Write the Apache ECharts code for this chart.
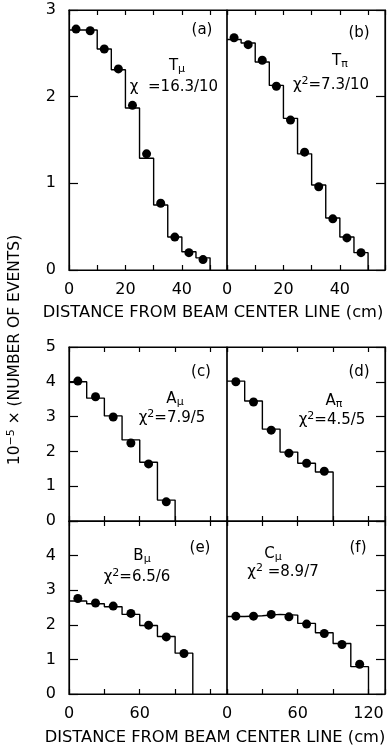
<!DOCTYPE html>
<html>
<head>
<meta charset="utf-8">
<script src="https://cdn.jsdelivr.net/npm/echarts@6/dist/echarts.min.js"></script>
<style>
  html, body { margin: 0; padding: 0; background: #fff; }
  #chart { width: 388px; height: 751px; }
</style>
</head>
<body>
<div id="chart"></div>
<script>
// bin widths in cm
const topBin = 5
const botBin = 15

// (a) T_mu : fitted histogram and measured points
const aFit = [2.77, 2.77, 2.55, 2.31, 1.87, 1.29, 0.75, 0.38, 0.21, 0.14]
const aData = [2.78, 2.76, 2.55, 2.32, 1.90, 1.34, 0.77, 0.38, 0.20, 0.12]
// (b) T_pi
const bFit = [2.66, 2.62, 2.40, 2.13, 1.75, 1.34, 0.98, 0.60, 0.38, 0.20]
const bData = [2.68, 2.60, 2.42, 2.12, 1.73, 1.36, 0.96, 0.59, 0.37, 0.20]
// (c) A_mu
const cFit = [4.00, 3.53, 3.02, 2.33, 1.69, 0.60]
const cData = [4.02, 3.57, 2.99, 2.24, 1.64, 0.55]
// (d) A_pi
const dFit = [4.02, 3.45, 2.64, 1.98, 1.66, 1.41]
const dData = [4.00, 3.42, 2.61, 1.95, 1.66, 1.43]
// (e) B_mu
const eFit = [2.69, 2.61, 2.52, 2.30, 1.98, 1.66, 1.18]
const eData = [2.76, 2.63, 2.54, 2.33, 1.99, 1.65, 1.17]
// (f) C_mu
const fFit = [2.24, 2.26, 2.30, 2.28, 2.04, 1.77, 1.46, 0.79]
const fData = [2.25, 2.25, 2.30, 2.23, 2.02, 1.75, 1.43, 0.86]

// tick labels shown on each axis
const topXLabels = [0, 20, 40]
const eXLabels = [0, 60]
const fXLabels = [0, 60, 120]
const topYLabels = [0, 1, 2, 3]
const cYLabels = [0, 1, 2, 3, 4, 5]
const eYLabels = [0, 1, 2, 3, 4]

const xTitle = 'DISTANCE FROM BEAM CENTER LINE (cm)'
const FONT = 'DejaVu Sans'
const INK = '#000'

const panels = [
  { fit: aFit, pts: aData, bin: topBin, xMax: 56, xStep: 10, yMax: 3, xLabels: topXLabels, yLabels: topYLabels, side: 'left', box: [69, 10, 158, 260] },
  { fit: bFit, pts: bData, bin: topBin, xMax: 56, xStep: 10, yMax: 3, xLabels: topXLabels, yLabels: null, side: 'right', box: [227, 10, 158, 260] },
  { fit: cFit, pts: cData, bin: botBin, xMax: 134, xStep: 30, yMax: 5, xLabels: null, yLabels: cYLabels, side: 'left', box: [69, 347, 158, 174] },
  { fit: dFit, pts: dData, bin: botBin, xMax: 134, xStep: 30, yMax: 5, xLabels: null, yLabels: null, side: 'right', box: [227, 347, 158, 174] },
  { fit: eFit, pts: eData, bin: botBin, xMax: 134, xStep: 30, yMax: 5, xLabels: eXLabels, yLabels: eYLabels, side: 'left', box: [69, 521, 158, 173] },
  { fit: fFit, pts: fData, bin: botBin, xMax: 134, xStep: 30, yMax: 5, xLabels: fXLabels, yLabels: null, side: 'right', box: [227, 521, 158, 173] },
]

function stepLine(fit, w) {
  const out = fit.map((v, i) => [i * w, v])
  out.push([fit.length * w, fit[fit.length - 1]])
  out.push([fit.length * w, 0])
  return out
}

function pickLabel(list) {
  return v => (list && list.includes(v) ? String(v) : '')
}

const grid = []
const xAxis = []
const yAxis = []
const series = []

panels.forEach((p, i) => {
  grid.push({
    left: p.box[0], top: p.box[1], width: p.box[2], height: p.box[3],
    show: true, borderColor: INK, borderWidth: 1.2, backgroundColor: 'transparent',
  })
  const xBase = {
    type: 'value', gridIndex: i, min: 0, max: p.xMax, interval: p.xStep,
    axisLine: { show: true, onZero: false, lineStyle: { color: INK, width: 1.2 } },
    splitLine: { show: false },
    axisTick: { show: true, inside: true, length: 5, lineStyle: { color: INK, width: 1.2 } },
  }
  xAxis.push({
    ...xBase, position: 'bottom',
    axisLabel: { show: !!p.xLabels, formatter: pickLabel(p.xLabels), color: INK, fontFamily: FONT, fontSize: 16, margin: 12, showMaxLabel: true, showMinLabel: true },
  })
  xAxis.push({ ...xBase, position: 'top', axisLabel: { show: false } })
  yAxis.push({
    type: 'value', gridIndex: i, min: 0, max: p.yMax, interval: 1, position: p.side,
    axisLine: { show: true, onZero: false, lineStyle: { color: INK, width: 1.2 } },
    splitLine: { show: false },
    axisTick: { show: true, inside: true, length: 9, lineStyle: { color: INK, width: 1.2 } },
    axisLabel: { show: !!p.yLabels, formatter: pickLabel(p.yLabels), color: INK, fontFamily: FONT, fontSize: 16, margin: 13 },
  })
  series.push({
    type: 'line', xAxisIndex: i * 2, yAxisIndex: i, step: 'end', symbol: 'none',
    data: stepLine(p.fit, p.bin), lineStyle: { color: INK, width: 1.4 }, silent: true, z: 2,
  })
  series.push({
    type: 'scatter', xAxisIndex: i * 2, yAxisIndex: i, symbolSize: 9,
    data: p.pts.map((v, k) => [(k + 0.5) * p.bin, v]), itemStyle: { color: INK, opacity: 1 }, z: 3,
  })
})

const txt = { fontFamily: FONT, fontSize: 15, fill: INK }
const rich = {
  s: { fontFamily: FONT, fontSize: 11, verticalAlign: 'bottom', lineHeight: 10, padding: [8, 0, 0, 0] },
  p: { fontFamily: FONT, fontSize: 11, verticalAlign: 'top', lineHeight: 10 },
  n: { fontFamily: FONT, fontSize: 15, lineHeight: 18 },
  t: { fontFamily: FONT, fontSize: 15.5, lineHeight: 18 },
}

function label(text, x, y) {
  return { type: 'text', x, y, style: { ...txt, text, rich, align: 'center', verticalAlign: 'middle' } }
}

const graphic = [
  label('(a)', 202, 30), label('{n|T}{s|μ}', 177, 66), label('{n|χ  =16.3/10}', 174, 87),
  label('(b)', 359, 33), label('{n|T}{s|π}', 340, 61), label('{n|χ}{p|2}{n|=7.3/10}', 331, 85),
  label('(c)', 201, 372), label('{n|A}{s|μ}', 175, 399), label('{n|χ}{p|2}{n|=7.9/5}', 172, 418),
  label('(d)', 359, 372), label('{n|A}{s|π}', 334, 401), label('{n|χ}{p|2}{n|=4.5/5}', 332, 420),
  label('(e)', 200, 548), label('{n|B}{s|μ}', 142, 556), label('{n|χ}{p|2}{n|=6.5/6}', 137, 577),
  label('(f)', 358, 548), label('{n|C}{s|μ}', 273, 554), label('{n|χ}{p|2}{n| =8.9/7}', 283, 572),
  { type: 'text', x: 213, y: 313, style: { ...txt, fontSize: 16.3, text: xTitle, align: 'center', verticalAlign: 'middle' } },
  { type: 'text', x: 215, y: 738, style: { ...txt, fontSize: 16.3, text: xTitle, align: 'center', verticalAlign: 'middle' } },
  {
    type: 'text', x: 15, y: 350, rotation: Math.PI / 2,
    style: { ...txt, text: '{t|10}{p|−5}{t| × (NUMBER OF EVENTS)}', rich, align: 'center', verticalAlign: 'middle' },
  },
]

const chart = echarts.init(document.getElementById('chart'), null, { renderer: 'canvas' })
chart.setOption({
  animation: false,
  backgroundColor: '#fff',
  grid, xAxis, yAxis, series, graphic,
})
</script>
</body>
</html>
